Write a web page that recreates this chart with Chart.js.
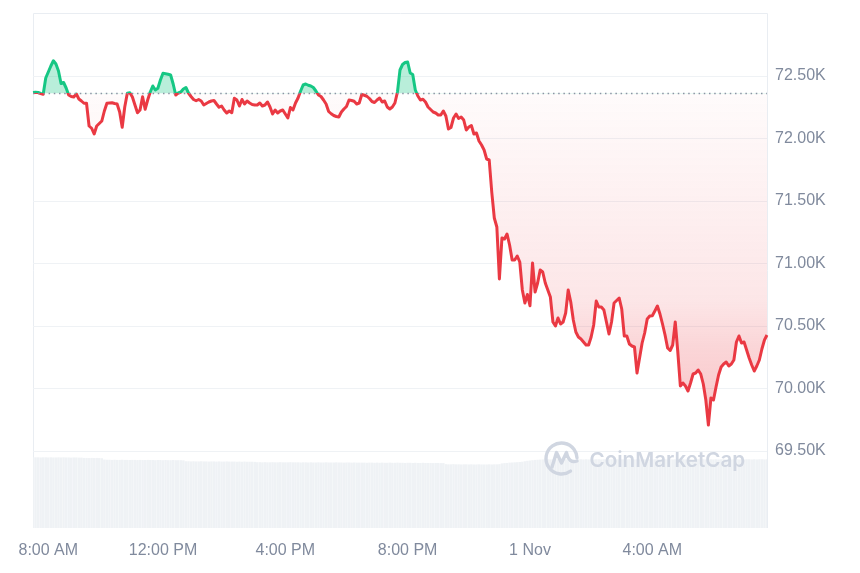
<!DOCTYPE html>
<html>
<head>
<meta charset="utf-8">
<title>Bitcoin price 24h</title>
<script src="https://cdn.jsdelivr.net/npm/chart.js@4"></script>
<style>
  html, body { margin: 0; padding: 0; background: #fff; }
  canvas { display: block; }
</style>
</head>
<body>
<canvas id="price" width="860" height="573"></canvas>
<script>
// price every 5 minutes, starting 7:45 AM
const prices = [
  72368,72370,72368,72360,72354,72484,72532,72580,72622,72596,72540,72440,72448,72404,72348,72336,72332,72356,72316,72300,
  72282,72282,72100,72082,72036,72100,72120,72140,72220,72282,72284,72286,72280,72276,72212,72090,72252,72362,72366,72332,
  72268,72206,72228,72334,72234,72308,72372,72420,72388,72402,72468,72522,72518,72514,72508,72436,72348,72364,72372,72396,
  72408,72364,72336,72312,72302,72312,72300,72268,72280,72292,72300,72304,72276,72250,72260,72228,72204,72220,72206,72322,
  72308,72260,72312,72276,72300,72284,72272,72268,72268,72284,72260,72268,72292,72252,72196,72228,72204,72220,72228,72196,
  72164,72248,72228,72284,72324,72380,72428,72436,72426,72420,72408,72380,72348,72336,72308,72276,72216,72198,72184,72176,
  72172,72212,72236,72256,72308,72304,72298,72276,72284,72352,72346,72338,72320,72296,72288,72308,72324,72292,72300,72252,
  72236,72252,72284,72372,72548,72592,72608,72612,72524,72512,72388,72340,72308,72314,72292,72252,72232,72212,72204,72188,
  72188,72220,72180,72076,72088,72164,72196,72160,72172,72148,72068,72092,72104,72036,72044,71980,71948,71908,71836,71828,
  71572,71364,71292,70876,71204,71196,71236,71148,71028,71028,71060,71012,70788,70684,70752,70662,71004,70772,70844,70948,
  70932,70844,70788,70732,70532,70500,70564,70516,70532,70604,70788,70692,70548,70452,70412,70396,70372,70348,70348,70412,
  70508,70700,70652,70652,70628,70532,70436,70532,70684,70704,70724,70636,70420,70420,70356,70340,70332,70124,70244,70364,
  70444,70556,70580,70582,70620,70660,70596,70516,70428,70324,70304,70348,70532,70292,70020,70044,70020,69980,70044,70116,
  70124,70148,70116,70036,69908,69708,69924,69908,70012,70108,70172,70196,70212,70180,70196,70228,70372,70420,70364,70372,
  70308,70244,70188,70140,70180,70228,70316,70388,70428
];

// volume in billions, same 5 minute steps
const volumes = [
  46.5,46.4,46.4,46.3,46.4,46.4,46.3,46.4,46.3,46.3,46.4,46.3,46.4,46.3,46.3,46.2,46.3,46.3,46.2,46.2,
  46.0,46.0,45.9,46.0,45.9,46.0,45.9,45.8,44.9,44.8,44.8,44.7,44.8,44.7,44.7,44.8,44.7,44.7,44.6,44.7,
  44.7,44.6,44.7,44.6,44.6,44.7,44.6,44.6,44.5,44.6,44.6,44.5,44.6,44.5,44.5,44.6,44.5,44.5,44.5,44.4,
  43.8,43.8,43.7,43.8,43.7,43.7,43.8,43.7,43.7,43.6,43.7,43.7,43.6,43.7,43.6,43.6,43.7,43.6,43.6,43.6,
  43.5,43.6,43.5,43.6,43.5,43.5,43.5,43.4,43.2,43.2,43.1,43.2,43.1,43.1,43.2,43.1,43.1,43.2,43.1,43.1,
  43.1,43.2,43.1,43.1,43.1,43.0,43.1,43.1,43.0,43.1,43.0,43.0,43.1,43.0,43.0,43.1,43.0,43.0,43.0,43.1,
  43.0,43.0,42.9,43.0,43.0,42.9,43.0,42.9,42.9,42.9,42.9,42.8,42.9,42.9,42.8,42.9,42.8,42.9,42.8,42.8,
  42.9,42.8,42.8,42.9,42.8,42.8,42.7,42.8,42.8,42.7,42.8,42.7,42.7,42.8,42.7,42.7,42.7,42.6,42.7,42.7,
  42.6,42.6,41.9,41.8,41.8,41.9,41.8,41.8,41.7,41.8,41.8,41.7,41.8,41.7,41.7,41.8,41.7,41.7,41.7,41.8,
  41.7,41.8,41.8,41.9,42.4,42.6,42.7,42.9,43.0,43.1,43.2,43.3,43.5,43.8,44.1,44.3,44.5,44.7,44.8,44.9,
  45.0,45.0,45.1,45.0,45.1,45.0,45.1,45.1,45.0,45.1,45.1,45.0,45.1,45.0,45.1,45.1,45.0,45.1,45.0,45.1,
  45.0,45.1,45.1,45.0,45.1,45.0,45.1,45.1,45.0,45.1,45.0,45.1,45.1,45.0,45.1,45.1,45.0,45.1,45.0,45.1,
  45.1,45.0,45.1,45.0,45.1,45.1,45.0,45.1,45.1,45.0,45.1,45.0,45.1,45.1,45.0,45.1,45.0,45.1,45.1,45.0,
  45.1,45.1,45.0,45.1,45.0,45.1,45.1,45.0,45.1,45.0,45.1,45.1,45.0,45.1,45.0,45.1,45.1,45.0,45.1,45.0,
  45.1,45.1,45.0,45.1,45.0,45.1,45.1,45.0,45.1
];

const baseline = 72360;
const yTicks = [69500, 70000, 70500, 71000, 71500, 72000, 72500];
const xTickIndex = [6, 51, 99, 147, 195, 243];
const xTickText = ["8:00 AM", "12:00 PM", "4:00 PM", "8:00 PM", "1 Nov", "4:00 AM"];

const RED = "#ea3943";
const GREEN = "#16c784";
const labels = prices.map((_, i) => i);

const ctx = document.getElementById("price").getContext("2d");

// hard colour switch where the line crosses the opening price
const lineGradient = ctx.createLinearGradient(0, 13, 0, 528);
const stop = (93.5 - 13) / 515;
lineGradient.addColorStop(0, GREEN);
lineGradient.addColorStop(stop, GREEN);
lineGradient.addColorStop(stop, RED);
lineGradient.addColorStop(1, RED);

const belowFill = ctx.createLinearGradient(0, 93, 0, 425);
belowFill.addColorStop(0, "rgba(234,57,67,0.02)");
belowFill.addColorStop(0.62, "rgba(234,57,67,0.126)");
belowFill.addColorStop(0.77, "rgba(234,57,67,0.21)");
belowFill.addColorStop(0.895, "rgba(234,57,67,0.26)");
belowFill.addColorStop(1, "rgba(234,57,67,0.30)");

const frame = {
  id: "frame",
  beforeDraw(chart) {
    const { left, top, right, bottom } = chart.chartArea;
    const c = chart.ctx;
    c.save();
    c.strokeStyle = "#e9edf2";
    c.lineWidth = 1;
    c.beginPath();
    c.moveTo(left + 0.5, bottom);
    c.lineTo(left + 0.5, top + 0.5);
    c.lineTo(right + 0.5, top + 0.5);
    c.lineTo(right + 0.5, bottom);
    c.stroke();
    c.restore();
  },
};

const watermark = {
  id: "watermark",
  afterDatasetsDraw(chart) {
    const c = chart.ctx;
    c.save();
    c.strokeStyle = "#d0d6e1";
    c.fillStyle = "#d0d6e1";
    c.lineWidth = 3.4;
    c.lineCap = "round";
    c.lineJoin = "round";
    c.beginPath();
    c.arc(561.5, 458.5, 15.5, 0.95, -0.05, false);
    c.stroke();
    c.beginPath();
    c.moveTo(552, 467);
    c.lineTo(556.5, 452.5);
    c.lineTo(561.5, 463);
    c.lineTo(566.5, 452.5);
    c.quadraticCurveTo(569, 464, 577, 461);
    c.stroke();
    c.font = "600 20.6px Inter";
    c.textBaseline = "alphabetic";
    c.fillText("CoinMarketCap", 589.5, 467);
    c.restore();
  },
};

new Chart(ctx, {
  data: {
    labels: labels,
    datasets: [
      {
        type: "line",
        label: "Price",
        data: prices,
        yAxisID: "y",
        borderColor: lineGradient,
        borderWidth: 3,
        pointRadius: 0,
        tension: 0,
        borderJoinStyle: "round",
        fill: { target: { value: baseline }, above: "rgba(22,199,132,0.3)", below: belowFill },
        order: 1,
      },
      {
        type: "line",
        label: "Open",
        data: prices.map(() => baseline),
        yAxisID: "y",
        borderColor: "#8a93a3",
        borderWidth: 1.5,
        borderDash: [1.5, 3.7],
        pointRadius: 0,
        fill: false,
        order: 0,
      },
      {
        type: "bar",
        label: "Volume",
        data: volumes,
        yAxisID: "vol",
        backgroundColor: "#eff2f5",
        barPercentage: 0.96,
        categoryPercentage: 1,
        order: 2,
      },
    ],
  },
  options: {
    responsive: false,
    animation: false,
    layout: { padding: { left: 33, top: 13, right: 0, bottom: 0 } },
    plugins: { legend: { display: false }, tooltip: { enabled: false } },
    scales: {
      x: {
        type: "category",
        offset: false,
        grid: { display: false },
        border: { display: false },
        afterBuildTicks: (axis) => {
          axis.ticks = xTickIndex.map((v) => ({ value: v }));
        },
        afterFit: (axis) => {
          axis.height = 45;
        },
        ticks: {
          autoSkip: false,
          maxRotation: 0,
          padding: 5,
          color: "#808a9d",
          font: { family: "'Liberation Sans'", size: 16 },
          callback: (value, i) => xTickText[i],
        },
      },
      y: {
        position: "right",
        min: 68884,
        max: 73004,
        grid: { color: "#eff2f5", drawTicks: false },
        border: { display: false },
        afterBuildTicks: (axis) => {
          axis.ticks = yTicks.map((v) => ({ value: v }));
        },
        afterFit: (axis) => {
          axis.width = 93;
          // labels never reach the plot edges, so no extra room is needed
          axis.paddingTop = 0;
          axis.paddingBottom = 0;
        },
        ticks: {
          padding: 8,
          color: "#808a9d",
          font: { family: "'Liberation Sans'", size: 16 },
          callback: (v) => (v / 1000).toFixed(2) + "K",
        },
      },
      vol: { display: false, min: 0, max: 338 },
    },
  },
  plugins: [frame, watermark],
});
</script>
</body>
</html>
